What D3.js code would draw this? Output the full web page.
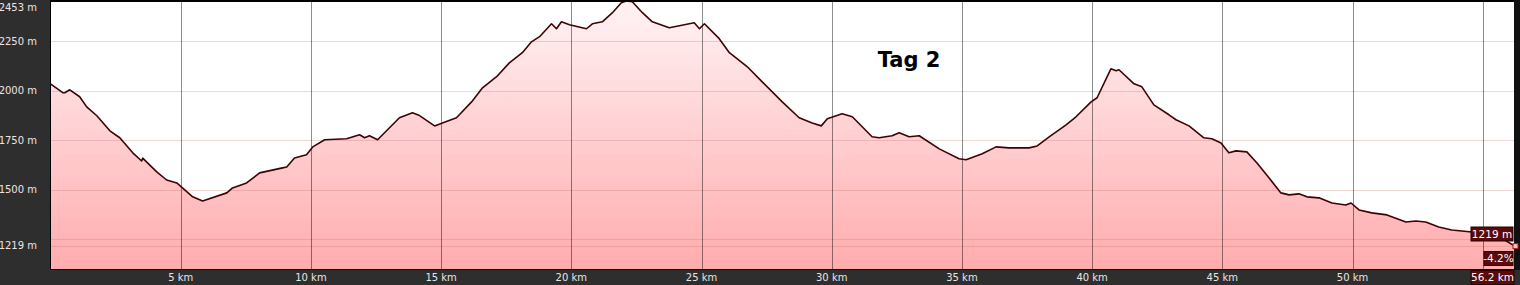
<!DOCTYPE html>
<html>
<head>
<meta charset="utf-8">
<script src="https://cdn.jsdelivr.net/npm/d3@7"></script>
<style>
  body { margin: 0; background: #2e2e2e; }
  svg { display: block; }
</style>
</head>
<body>
<div id="chart"></div>
<script>
// elevation profile
var distKm = [0, 0.47, 0.55, 0.74, 1.12, 1.39, 1.78, 2.28, 2.66, 3.16, 3.50, 3.54, 4.08, 4.46, 4.85,
  5.46, 5.84, 6.77, 6.99, 7.53, 8.03, 8.91, 9.07, 9.37, 9.83, 10.07, 10.53, 11.37, 11.87, 12.06,
  12.25, 12.56, 13.40, 13.90, 14.17, 14.75, 15.05, 15.59, 16.17, 16.59, 17.13, 17.62, 18.12, 18.47,
  18.78, 19.24, 19.43, 19.62, 19.93, 20.58, 20.81, 21.19, 21.58, 21.92, 22.11, 22.34, 22.73, 23.11,
  23.76, 24.15, 24.72, 24.92, 25.11, 25.68, 26.07, 26.76, 27.33, 28.10, 28.75, 29.25, 29.60, 29.83,
  30.40, 30.79, 31.55, 31.82, 32.32, 32.59, 32.97, 33.36, 34.13, 34.89, 35.16, 35.78, 36.31, 36.81,
  37.08, 37.58, 37.89, 38.35, 39.00, 39.38, 39.96, 40.19, 40.72, 40.92, 41.03, 41.61, 41.91, 42.37,
  42.95, 43.22, 43.72, 44.29, 44.60, 44.95, 45.25, 45.52, 45.94, 46.33, 46.79, 47.25, 47.56, 47.94,
  48.25, 48.71, 49.21, 49.74, 49.94, 50.25, 50.74, 51.32, 52.05, 52.43, 52.81, 53.31, 53.81, 54.58,
  55.23, 55.81, 56.2];
var elevM = [2035, 1991, 1990, 2005, 1970, 1919, 1874, 1798, 1763, 1687, 1646, 1660, 1591, 1550, 1535,
  1465, 1444, 1485, 1510, 1535, 1586, 1611, 1616, 1661, 1677, 1717, 1753, 1758, 1778, 1763,
  1773, 1753, 1864, 1889, 1875, 1823, 1838, 1864, 1944, 2015, 2071, 2141, 2192, 2247,
  2273, 2338, 2313, 2348, 2333, 2313, 2338, 2348, 2394, 2444, 2453, 2449, 2394, 2348,
  2318, 2328, 2343, 2313, 2338, 2263, 2192, 2121, 2045, 1944, 1864, 1838, 1823, 1859,
  1884, 1869, 1768, 1763, 1773, 1788, 1768, 1773, 1707, 1657, 1652, 1682, 1717, 1712,
  1712, 1712, 1722, 1768, 1828, 1869, 1944, 1965, 2111, 2101, 2106, 2035, 2020, 1929,
  1879, 1854, 1823, 1763, 1758, 1737, 1687, 1697, 1692, 1636, 1561, 1485, 1475, 1480,
  1465, 1460, 1434, 1424, 1434, 1399, 1384, 1374, 1338, 1343, 1338, 1313, 1298, 1288,
  1280, 1250, 1219];

var xTicks = [5, 10, 15, 20, 25, 30, 35, 40, 45, 50, 55];
var xLabels = [5, 10, 15, 20, 25, 30, 35, 40, 45, 50];
var yGrid = [2250, 2000, 1750, 1500, 1250, 1219];
var yLabels = [2453, 2250, 2000, 1750, 1500, 1219];
var totalKm = 56.2;
var endElev = 1219;
var endGrade = "-4.2%";
var title = "Tag 2";

var width = 1520;
var height = 285;
var padL = 50.5, padR = 1514, padT = 1, padB = 269;

var data = distKm.map(function(d, i) { return { km: d, ele: elevM[i] }; });

var x = d3.scaleLinear().domain([0, totalKm]).range([padL, padR]);
var y = d3.scaleLinear().domain([1101, 2453]).range([padB, padT]);

var svg = d3.select('#chart')
  .append('svg')
  .attr('width', width)
  .attr('height', height)
  .style('font-family', 'DejaVu Sans, Verdana, sans-serif');

var defs = svg.append('defs');
var grad = defs.append('linearGradient')
  .attr('id', 'fillGrad')
  .attr('gradientUnits', 'userSpaceOnUse')
  .attr('x1', 0).attr('y1', padT)
  .attr('x2', 0).attr('y2', padB);
grad.append('stop').attr('offset', '0%').attr('stop-color', '#fff3f5');
grad.append('stop').attr('offset', '100%').attr('stop-color', '#ffacae');

// plot background
svg.append('rect')
  .attr('x', padL).attr('y', padT)
  .attr('width', padR - padL).attr('height', padB - padT)
  .attr('fill', '#ffffff');

var area = d3.area()
  .x(function(d) { return x(d.km); })
  .y0(padB)
  .y1(function(d) { return y(d.ele); });

svg.append('path')
  .datum(data)
  .attr('d', area)
  .attr('fill', 'url(#fillGrad)');

// horizontal grid
svg.selectAll('.hgrid')
  .data(yGrid)
  .enter()
  .append('line')
  .attr('class', 'hgrid')
  .attr('x1', padL).attr('x2', padR)
  .attr('y1', function(d) { return Math.round(y(d)) + 0.5; })
  .attr('y2', function(d) { return Math.round(y(d)) + 0.5; })
  .attr('stroke', 'rgba(190,100,90,0.25)')
  .attr('stroke-width', 1);

// vertical grid
svg.selectAll('.vgrid')
  .data(xTicks)
  .enter()
  .append('line')
  .attr('class', 'vgrid')
  .attr('x1', function(d) { return Math.round(x(d)) + 0.5; })
  .attr('x2', function(d) { return Math.round(x(d)) + 0.5; })
  .attr('y1', padT).attr('y2', padB)
  .attr('stroke', 'rgba(0,0,0,0.45)')
  .attr('stroke-width', 1);

var line = d3.line()
  .x(function(d) { return x(d.km); })
  .y(function(d) { return y(d.ele); });

svg.append('path')
  .datum(data)
  .attr('d', line)
  .attr('fill', 'none')
  .attr('stroke', '#420000')
  .attr('stroke-width', 1.6)
  .attr('stroke-linejoin', 'round');

// frame
svg.append('rect').attr('x', padL - 0.5).attr('y', 0).attr('width', padR - padL + 1).attr('height', 2).attr('fill', '#000');
svg.append('rect').attr('x', padL - 0.5).attr('y', 0).attr('width', 1).attr('height', padB + 1).attr('fill', '#000');
svg.append('rect').attr('x', padL - 0.5).attr('y', padB).attr('width', padR - padL + 1).attr('height', 1).attr('fill', '#000');
svg.append('rect').attr('x', padR).attr('y', 0).attr('width', width - padR).attr('height', padB + 1).attr('fill', '#111');

// y labels
svg.selectAll('.ylab')
  .data(yLabels)
  .enter()
  .append('text')
  .attr('class', 'ylab')
  .attr('x', 37)
  .attr('y', function(d) { return Math.max(7, y(d)); })
  .attr('dy', '0.35em')
  .attr('text-anchor', 'end')
  .attr('font-size', 10)
  .attr('fill', '#f2e2e2')
  .text(function(d) { return d + ' m'; });

// x labels
svg.selectAll('.xlab')
  .data(xLabels)
  .enter()
  .append('text')
  .attr('class', 'xlab')
  .attr('x', function(d) { return x(d); })
  .attr('y', 277)
  .attr('dy', '0.35em')
  .attr('text-anchor', 'middle')
  .attr('font-size', 10)
  .attr('fill', '#e6e6e6')
  .text(function(d) { return d + ' km'; });

// end marker
svg.append('rect')
  .attr('x', x(totalKm) - 1).attr('y', y(endElev) - 2)
  .attr('width', 5).attr('height', 5)
  .attr('fill', '#ffc0c0')
  .attr('stroke', '#b01818')
  .attr('stroke-width', 1);

// value boxes on the right
function valueBox(label, xr, ym, w) {
  svg.append('rect')
    .attr('x', xr - w).attr('y', ym - 7)
    .attr('width', w).attr('height', 14)
    .attr('fill', '#5a0a0a')
    .attr('stroke', '#2a0000')
    .attr('stroke-width', 1);
  svg.append('text')
    .attr('x', xr - w / 2).attr('y', ym)
    .attr('dy', '0.36em')
    .attr('text-anchor', 'middle')
    .attr('font-size', 10.5)
    .attr('fill', '#ffffff')
    .text(label);
}
valueBox(endElev + ' m', 1513, 234, 42);
valueBox(endGrade, 1513, 258.5, 29);
valueBox(totalKm + ' km', 1514, 277.5, 43);

// title
svg.append('text')
  .attr('x', 909)
  .attr('y', 67)
  .attr('text-anchor', 'middle')
  .attr('font-size', 21)
  .attr('font-weight', 'bold')
  .attr('fill', '#000')
  .text(title);
</script>
</body>
</html>
